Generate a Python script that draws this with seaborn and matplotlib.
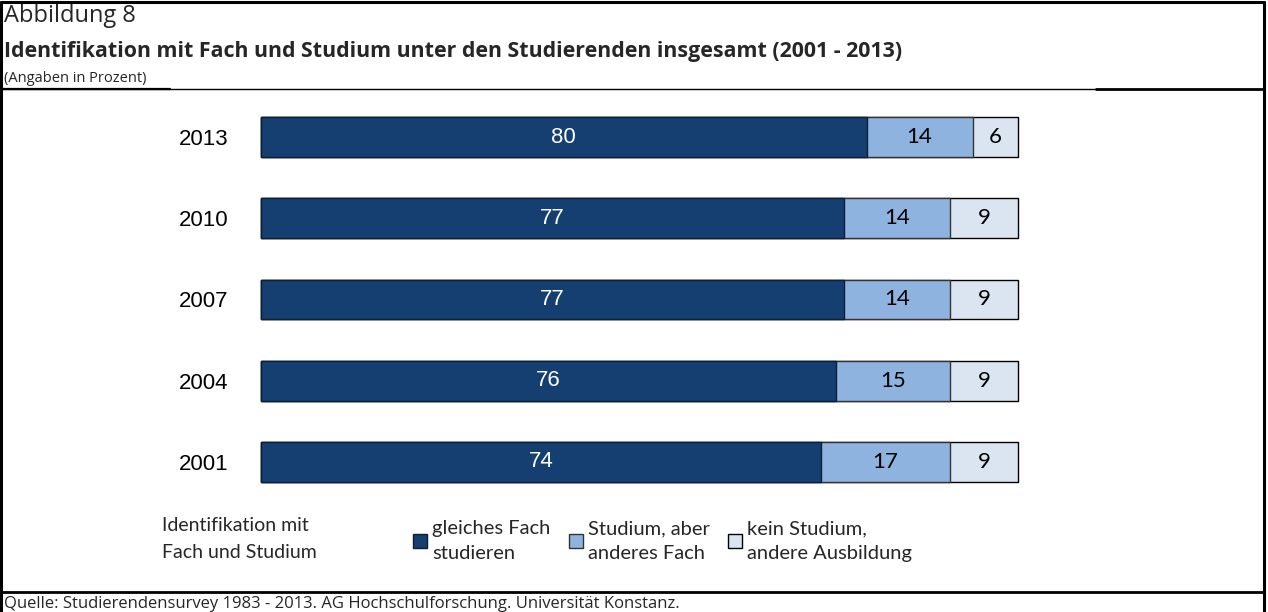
import pandas as pd
import matplotlib
matplotlib.use("Agg")
import matplotlib.pyplot as plt
from matplotlib.lines import Line2D
import seaborn as sns

# ---------- data ----------
jahre = ["2013", "2010", "2007", "2004", "2001"]
gleiches_fach = [80, 77, 77, 76, 74]
anderes_fach = [14, 14, 14, 15, 17]
andere_ausbildung = [6, 9, 9, 9, 9]

serien = ["gleiches Fach\nstudieren", "Studium, aber\nanderes Fach", "kein Studium,\nandere Ausbildung"]
farben = ["#153f70", "#8db3de", "#dbe5f1"]

df = pd.DataFrame({
    "Jahr": jahre,
    "gleich": gleiches_fach,
    "anders": anderes_fach,
    "kein": andere_ausbildung,
})
df["cum1"] = df["gleich"]
df["cum2"] = df["gleich"] + df["anders"]
df["cum3"] = df["cum2"] + df["kein"]

# ---------- figure ----------
sns.set_theme(style="white")
fig = plt.figure(figsize=(12.68, 6.12), dpi=100)
ax = fig.add_axes([0.2058, 0.1788, 0.597, 0.6637])

# stacked bars: draw the cumulative totals from widest to narrowest
sns.barplot(data=df, x="cum3", y="Jahr", order=jahre, orient="h", color=farben[2],
            edgecolor="black", linewidth=1.0, width=0.49, ax=ax, saturation=1)
sns.barplot(data=df, x="cum2", y="Jahr", order=jahre, orient="h", color=farben[1],
            edgecolor="#333333", linewidth=1.0, width=0.49, ax=ax, saturation=1)
sns.barplot(data=df, x="cum1", y="Jahr", order=jahre, orient="h", color=farben[0],
            edgecolor="#0a1e38", linewidth=1.0, width=0.49, ax=ax, saturation=1)
for p in ax.patches:
    p.set_clip_on(False)

ax.set_xlim(0, 100)
ax.set_ylim(4.5, -0.5)
ax.set_xlabel("")
ax.set_ylabel("")
ax.set_xticks([])
for s in ax.spines.values():
    s.set_visible(False)
ax.tick_params(axis="y", length=0, pad=23.5)
for lab in ax.get_yticklabels():
    lab.set_fontfamily("Liberation Sans")
    lab.set_fontsize(16)
    lab.set_color("black")

# value labels
for i, row in df.iterrows():
    ax.text(row["gleich"] / 2, i, str(row["gleich"]), ha="center", va="center",
            color="white", fontsize=16, family="Liberation Sans")
    ax.text(row["gleich"] + row["anders"] / 2, i, str(row["anders"]), ha="center", va="center",
            color="black", fontsize=16, family="Lato")
    ax.text(row["cum2"] + row["kein"] / 2, i, str(row["kein"]), ha="center", va="center",
            color="black", fontsize=16, family="Lato")

# legend
handles = [ax.containers[2][0], ax.containers[1][0], ax.containers[0][0]]
leg = fig.legend(handles, serien, loc="center left", bbox_to_anchor=(413 / 1268, 1 - 541 / 612),
                 ncol=3, frameon=False, handlelength=0.7, handleheight=0.7,
                 handletextpad=0.25, columnspacing=0.9, borderpad=0, borderaxespad=0,
                 prop={"family": "Lato", "size": 14.5})
for t in leg.get_texts():
    t.set_linespacing(1.55)

fig.text(162 / 1268, 1 - 539 / 612, "Identifikation mit\nFach und Studium", ha="left", va="center",
         fontsize=14, family="Lato", linespacing=1.75)

# header
fig.text(0.003, 1 - 4 / 612, "Abbildung 8", ha="left", va="top", fontsize=17, family="Open Sans")
fig.text(0.003, 1 - 52 / 612, "Identifikation mit Fach und Studium unter den Studierenden insgesamt (2001 - 2013)",
         ha="left", va="center", fontsize=15.4, family="Open Sans", fontweight="bold")
fig.text(0.003, 1 - 78 / 612, "(Angaben in Prozent)", ha="left", va="center", fontsize=10.5, family="Open Sans")
fig.text(0.003, 1 - 596 / 612, "Quelle: Studierendensurvey 1983 - 2013. AG Hochschulforschung. Universität Konstanz.",
         ha="left", va="top", fontsize=12, family="Open Sans")

# frame lines
def linie(x0, x1, y0, y1, lw):
    fig.add_artist(Line2D([x0, x1], [y0, y1], transform=fig.transFigure, color="black", lw=lw))

top = 1 - 2 / 612
head = 1 - 89 / 612
foot = 1 - 592 / 612
right = 1264 / 1268
linie(0.001, right, top, top, 2.2)
linie(0.001, 0.001, 0, top, 2.2)
linie(right, right, 0, top, 2.2)
linie(0.001, 1098 / 1268, head, head, 1.0)
linie(0.001, 170 / 1268, head, head, 1.6)
linie(1096 / 1268, right, head, head, 2.0)
linie(0.001, right, foot, foot, 2.0)

fig.savefig("out.png", dpi=100, facecolor="white")
